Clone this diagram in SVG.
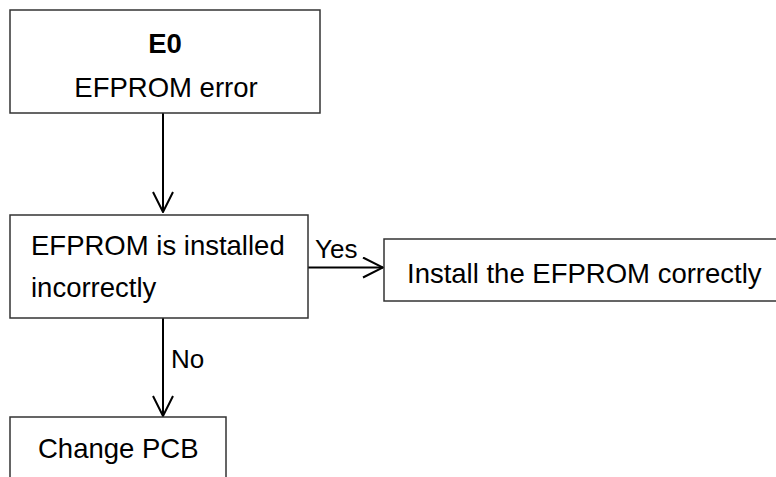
<svg xmlns="http://www.w3.org/2000/svg" width="776" height="477" viewBox="0 0 776 477">
<defs>
<style>
.box{fill:#fff;stroke:#333;stroke-width:1.5}
.t{font-family:"Liberation Sans",Arial,sans-serif;font-size:27.5px;fill:#000}
.lb{font-family:"Liberation Sans",Arial,sans-serif;font-size:26px;fill:#000}
.line{stroke:#000;stroke-width:2;fill:none}
</style>
<marker id="arr" viewBox="0 0 22 22" refX="21" refY="11" markerWidth="22" markerHeight="22" markerUnits="userSpaceOnUse" orient="auto">
<path d="M1,1 L21,11 L1,21" fill="none" stroke="#000" stroke-width="2"/>
</marker>
</defs>
<rect width="776" height="477" fill="#fff"/>
<g id="connectors">
<line class="line" x1="163" y1="113" x2="163" y2="212" marker-end="url(#arr)"/>
<line class="line" x1="308" y1="267.5" x2="383" y2="267.5" marker-end="url(#arr)"/>
<text class="lb" x="315" y="258">Yes</text>
<line class="line" x1="163" y1="318" x2="163" y2="416" marker-end="url(#arr)"/>
<text class="lb" x="171" y="368">No</text>
</g>
<g id="n1">
<rect class="box" x="10" y="10" width="310" height="103"/>
<text class="t" x="165" y="53" text-anchor="middle" font-weight="bold">E0</text>
<text class="t" x="166" y="97" text-anchor="middle">EFPROM error</text>
</g>
<g id="n2">
<rect class="box" x="10" y="215" width="298" height="103"/>
<text class="t" x="31" y="255">EFPROM is installed</text>
<text class="t" x="31" y="297">incorrectly</text>
</g>
<g id="n3">
<rect class="box" x="384" y="239" width="400" height="62"/>
<text class="t" x="407" y="283">Install the EFPROM correctly</text>
</g>
<g id="n4">
<rect class="box" x="10" y="417" width="216" height="80"/>
<text class="t" x="38" y="458">Change PCB</text>
</g>
</svg>
